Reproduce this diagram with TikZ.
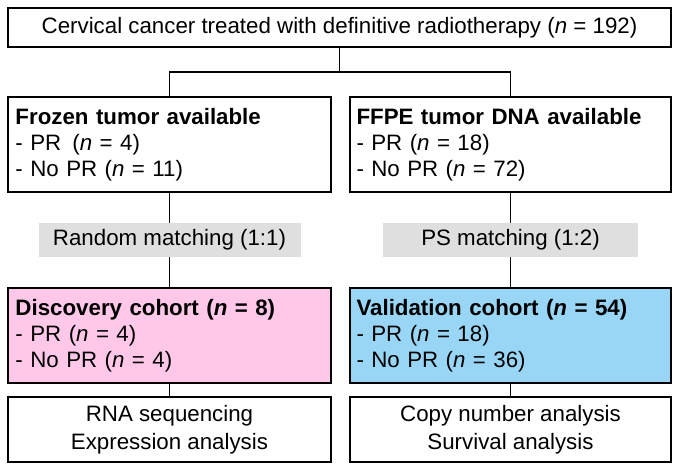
\documentclass[tikz,border=0pt]{standalone}
\usepackage{fontspec}
\setmainfont{Liberation Sans}
\begin{document}
\begin{tikzpicture}[x=1pt,y=-1pt,
  box/.style={draw,line width=1.2pt,inner sep=0pt,font=\fontsize{22.3}{26}\selectfont},
  lbox/.style={box,align=left,text width=308pt,minimum width=323pt,minimum height=95pt},
  gbox/.style={fill=gray!25,inner sep=0pt,minimum height=33pt,font=\fontsize{22.3}{24}\selectfont},
  ln/.style={line width=1.2pt}]
\useasboundingbox (0,0) rectangle (679,470);
\node[box,minimum width=663pt,minimum height=39pt] (top) at (339.5,27.5) {Cervical cancer treated with definitive radiotherapy (\textit{n} = 192)};
\node[lbox] (fz) at (169.5,144.5) {\textbf{Frozen tumor available}\\- PR\enspace(\textit{n} = 4)\\- No PR (\textit{n} = 11)};
\node[lbox,minimum width=321pt] (ff) at (510.5,144.5) {\textbf{FFPE tumor DNA available}\\- PR (\textit{n} = 18)\\- No PR (\textit{n} = 72)};
\node[lbox,fill={rgb,255:red,255;green,200;blue,232}] (dc) at (169.5,335.5) {\textbf{Discovery cohort (\textit{n} = 8)}\\- PR (\textit{n} = 4)\\- No PR (\textit{n} = 4)};
\node[lbox,minimum width=321pt,fill={rgb,255:red,153;green,214;blue,245}] (vc) at (510.5,335.5) {\textbf{Validation cohort (\textit{n} = 54)}\\- PR (\textit{n} = 18)\\- No PR (\textit{n} = 36)};
\node[box,align=center,minimum width=323pt,minimum height=65pt,font=\fontsize{22.3}{28}\selectfont] (rna) at (169.5,429.5) {RNA sequencing\\Expression analysis};
\node[box,align=center,minimum width=321pt,minimum height=65pt,font=\fontsize{22.3}{28}\selectfont] (cn) at (510.5,429.5) {Copy number analysis\\Survival analysis};
\draw[ln] (fz.south) -- (dc.north);
\draw[ln] (ff.south) -- (vc.north);
\node[gbox,minimum width=262pt] (rm) at (169.5,240) {Random matching (1:1)};
\node[gbox,minimum width=255pt] (ps) at (510.5,240) {PS matching (1:2)};
\coordinate (j) at (339.5,72);
\draw[ln] (top.south) -- (j);
\draw[ln] (fz.north) |- (j) -| (ff.north);
\draw[ln] (dc.south) -- (rna.north);
\draw[ln] (vc.south) -- (cn.north);
\end{tikzpicture}
\end{document}
